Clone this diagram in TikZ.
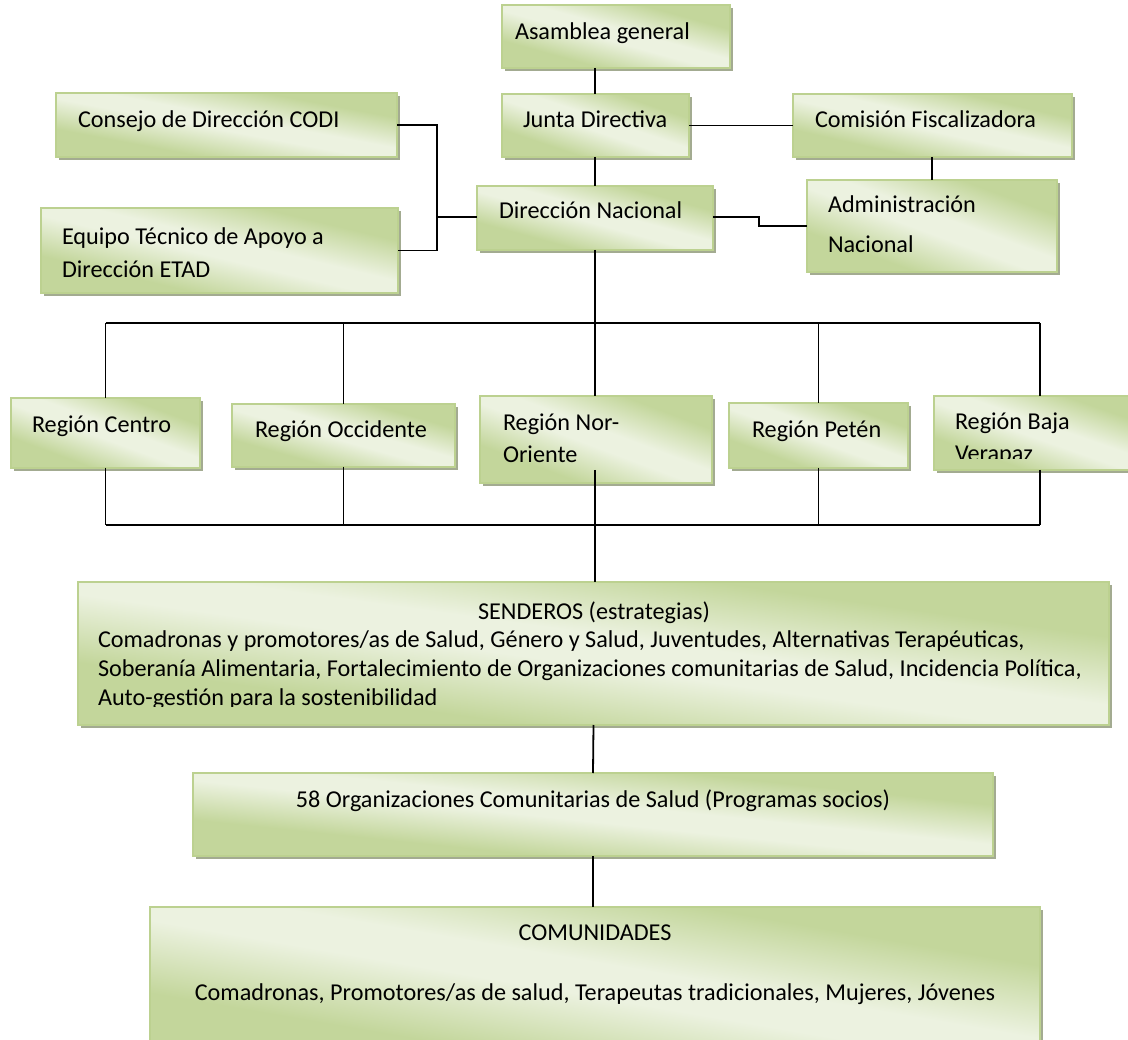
\documentclass[tikz,border=0pt]{standalone}
\usepackage{fontspec}
\setmainfont{Carlito}
\definecolor{gdark}{HTML}{C3D69B}
\definecolor{glight}{HTML}{ECF2E0}
\definecolor{gborder}{HTML}{BCD190}
\definecolor{gshadow}{HTML}{A3AB91}
\pgfdeclarehorizontalshading{wgreen}{100bp}{color(0bp)=(gdark); color(30bp)=(gdark); color(47bp)=(glight); color(55bp)=(glight); color(72bp)=(gdark); color(100bp)=(gdark)}
\tikzset{
  gbox/.style={draw=gborder, line width=1.2pt, inner sep=0pt, outer sep=0pt, anchor=north west},
  gshade/.style={shading=wgreen, shading angle=45},
  gshad/.style={fill=gshadow},
  txt/.style={font=\fontsize{24.2}{28}\selectfont, inner sep=0pt, outer sep=0pt, anchor=base west},
  ctxt/.style={txt, anchor=base},
  conn/.style={draw=black, line width=1.8pt}
}
\newcommand\obox[5]{%
  \fill[gshad] (#2+3,#3+3) rectangle (#4+3,#5+3);
  \shade[gshade, transform canvas={shift={(#2,#3)}, xscale=#4-#2, yscale=#5-#3}] (0,0) rectangle (1,1);
  \node[gbox, minimum width={#4-#2}, minimum height={#5-#3}] (#1) at (#2,#3) {};}
\begin{document}
\begin{tikzpicture}[x=1pt, y=-1pt]
\useasboundingbox (0,0) rectangle (1128,1040);
% boxes
\obox{asam}{502}{5}{730}{68}
\obox{codi}{56}{93}{397}{157}
\obox{junta}{502}{94}{689}{157}
\obox{com}{793}{94}{1072}{157}
\obox{dn}{477}{186}{713}{250}
\obox{admin}{807}{180}{1057}{272}
\obox{etad}{41}{208}{398}{293}
\obox{centro}{11}{398}{200}{468}
\obox{occ}{232}{404}{455}{467}
\obox{nor}{480}{396}{712}{483}
\obox{peten}{729}{403}{908}{468}
\obox{baja}{934}{396}{1146}{470}
\obox{sen}{78}{582}{1109}{725}
\obox{org}{193}{773}{993}{856}
\obox{comu}{150}{907}{1040}{1060}
% texts
\node[txt] (t-asam) at (515,40) {Asamblea general};
\node[txt] (t-codi) at (78,128) {Consejo de Dirección CODI};
\node[txt] (t-junta) at (523,128) {Junta Directiva};
\node[txt] (t-com) at (815,128) {Comisión Fiscalizadora};
\node[txt] (t-dn) at (499,219) {Dirección Nacional};
\node[txt] (t-admin1) at (828,213) {Administración};
\node[txt] (t-admin2) at (828,253) {Nacional};
\node[txt] (t-etad1) at (62,245) {Equipo Técnico de Apoyo a};
\node[txt] (t-etad2) at (62,278) {Dirección ETAD};
\node[txt] (t-centro) at (32,433) {Región Centro};
\node[txt] (t-occ) at (255,438) {Región Occidente};
\node[txt] (t-nor1) at (503,431) {Región Nor-};
\node[txt] (t-nor2) at (503,463) {Oriente};
\node[txt] (t-peten) at (752,438) {Región Petén};
\begin{scope}
\clip (934,396) rectangle (1128,459);
\node[txt] (t-baja1) at (955,430) {Región Baja};
\node[txt] (t-baja2) at (955,462) {Verapaz};
\end{scope}
\node[ctxt] (t-sen0) at (594,619) {SENDEROS (estrategias)};
\begin{scope}
\clip (78,582) rectangle (1109,706);
\node[txt] (t-sen1) at (98,647) {Comadronas y promotores/as de Salud, Género y Salud, Juventudes, Alternativas Terapéuticas,};
\node[txt] (t-sen2) at (98,676) {Soberanía Alimentaria, Fortalecimiento de Organizaciones comunitarias de Salud, Incidencia Política,};
\node[txt] (t-sen3) at (98,705) {Auto-gestión para la sostenibilidad};
\end{scope}
\node[ctxt] (t-org) at (593,807) {58 Organizaciones Comunitarias de Salud (Programas socios)};
\node[ctxt] (t-comu1) at (595,940) {COMUNIDADES};
\node[ctxt] (t-comu2) at (595,1000) {Comadronas, Promotores/as de salud, Terapeutas tradicionales, Mujeres, Jóvenes};
% connectors
\coordinate (tb) at (595,323);
\coordinate (bb) at (595,525);
\coordinate (lj) at (437,217);
\coordinate (rj) at (759,217);
\draw[conn] (asam.south -| tb) -- (junta.north -| tb);
\draw[conn] (junta.south -| tb) -- (dn.north -| tb);
\draw[conn] (junta.east |- com.west) -- (com.west);
\draw[conn] (admin.north |- com.south) -- (admin.north);
\draw[conn] (dn.east |- rj) -- (rj) |- (admin.west);
\draw[conn] (codi.east) -| (lj) |- (etad.east);
\draw[conn] (lj) -- (dn.west |- lj);
\draw[conn] (dn.south -| tb) -- (tb);
\draw[conn] (centro.north |- tb) -- (baja.north |- tb);
\draw[conn] (centro.south |- bb) -- (baja.south |- bb);
\foreach \r in {centro,occ,peten,baja}{
  \draw[conn] (\r.north) -- (\r.north |- tb);
  \draw[conn] (\r.south) -- (\r.south |- bb);
}
\draw[conn] (nor.north -| tb) -- (tb);
\draw[conn] ([yshift=13pt]nor.south -| bb) -- (bb);
\draw[conn] (bb) -- (sen.north -| bb);
\draw[conn] (sen.south) -- (org.north);
\draw[conn] (org.south) -- (comu.north -| org.south);
\end{tikzpicture}
\end{document}
